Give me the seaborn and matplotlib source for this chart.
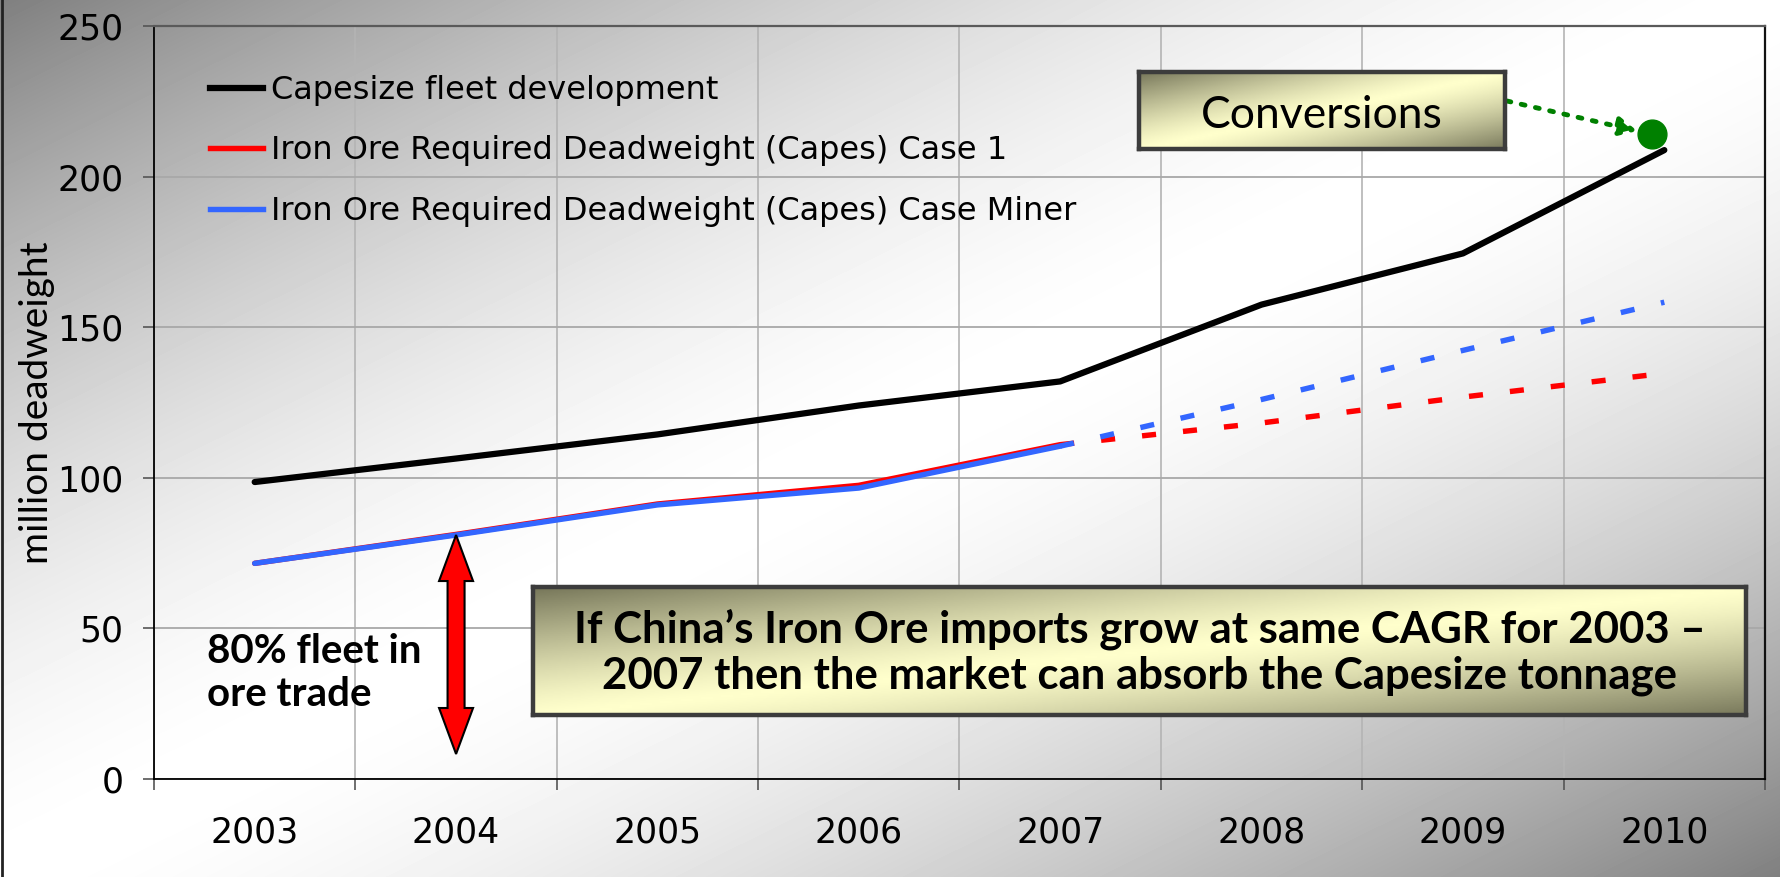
import numpy as np
import matplotlib
matplotlib.use("Agg")
import matplotlib.pyplot as plt
import seaborn as sns
from matplotlib.lines import Line2D
from matplotlib.patches import Polygon
from matplotlib.transforms import IdentityTransform
from matplotlib.colors import LinearSegmentedColormap

# ---------------- data ----------------
years = ['2003', '2004', '2005', '2006', '2007', '2008', '2009', '2010']
capesize_fleet = [98.6, 106.4, 114.4, 124.0, 132.0, 157.5, 174.5, 208.8]
case1_hist_years = ['2003', '2004', '2005', '2006', '2007']
case1_hist = [71.6, 81.2, 91.3, 97.5, 111.0]
case1_proj_years = ['2007', '2008', '2009', '2010']
case1_proj = [111.0, 118.2, 126.8, 134.7]
miner_hist_years = ['2003', '2004', '2005', '2006', '2007']
miner_hist = [71.6, 81.0, 91.0, 96.6, 110.5]
miner_proj_years = ['2007', '2008', '2009', '2010']
miner_proj = [110.5, 126.0, 142.3, 158.3]
conversions_2010 = 214.0
y_ticks = [0, 50, 100, 150, 200, 250]
legend_labels = ['Capesize fleet development',
                 'Iron Ore Required Deadweight (Capes) Case 1',
                 'Iron Ore Required Deadweight (Capes) Case Miner']
note_main = "If China\u2019s Iron Ore imports grow at same CAGR for 2003 \u2013\n2007 then the market can absorb the Capesize tonnage"
note_fleet = "80% fleet in\nore trade"
note_conv = "Conversions"

pos = {y: i for i, y in enumerate(years)}
W, H = 1780, 877

fig = plt.figure(figsize=(W / 100, H / 100), dpi=100)

# background gradient
bg = fig.add_axes([0, 0, 1, 1])
bg.axis('off')
yy, xx = np.mgrid[0:H, 0:W]
t = (xx / W + yy / H) / 2
g = 1 - 0.5 * np.abs(2 * t - 1) ** 1.6
bg.imshow(g, cmap='gray', vmin=0, vmax=1, aspect='auto', extent=[0, 1, 0, 1])
fig.add_artist(Line2D([0.001, 0.001], [0, 1], color='#222222', lw=2, transform=fig.transFigure))

ax = fig.add_axes([154 / W, 1 - 779 / H, (1765 - 154) / W, (779 - 26) / H])
ax.patch.set_alpha(0)

RED = '#ff0000'
BLUE = '#3366ff'
dash = (0, (2.6, 5.0))

sns.lineplot(x=[pos[y] for y in years], y=capesize_fleet, color='black', lw=4.5,
             solid_capstyle='round', solid_joinstyle='round', ax=ax)
sns.lineplot(x=[pos[y] for y in case1_hist_years], y=case1_hist, color=RED, lw=3.9,
             solid_capstyle='round', solid_joinstyle='round', ax=ax)
sns.lineplot(x=[pos[y] for y in case1_proj_years], y=case1_proj, color=RED, lw=3.9,
             linestyle=dash, dash_capstyle='butt', ax=ax)
sns.lineplot(x=[pos[y] for y in miner_hist_years], y=miner_hist, color=BLUE, lw=3.9,
             solid_capstyle='round', solid_joinstyle='round', ax=ax)
sns.lineplot(x=[pos[y] for y in miner_proj_years], y=miner_proj, color=BLUE, lw=3.9,
             linestyle=dash, dash_capstyle='butt', ax=ax)

ax.set_xlim(-0.5, 7.5)
ax.set_ylim(0, 250)
ax.set_xticks(range(len(years)))
ax.set_xticklabels(years)
ax.set_xticks(np.arange(-0.5, len(years) + 0.5, 1), minor=True)
ax.tick_params(axis='x', which='major', length=0, pad=26, labelsize=25)
ax.tick_params(axis='x', which='minor', length=8, width=1.2, direction='out', color='#555555')
ax.set_yticks(y_ticks)
ax.tick_params(axis='y', which='major', length=8, width=1.2, direction='out', pad=14,
               labelsize=25, color='#555555')
ax.grid(axis='x', which='minor', color='#b4b4b4', lw=1.2)
ax.grid(axis='x', which='major', visible=False)
ax.grid(axis='y', which='major', color='#a8a8a8', lw=1.3)
ax.set_axisbelow(True)
ax.set_xlabel('')
for s in ['left', 'bottom']:
    ax.spines[s].set_color('black')
    ax.spines[s].set_linewidth(1.3)
ax.spines['right'].set_color('#111111')
ax.spines['right'].set_linewidth(1.6)
ax.spines['top'].set_color('#5a5a5a')
ax.spines['top'].set_linewidth(1.6)

ax.set_ylabel('million deadweight', fontsize=28, family='Lato', va='center',
              rotation_mode='anchor')
ax.yaxis.set_label_coords((37 - 154) / 1611, 0.5)

handles = [Line2D([], [], color='black', lw=4.5),
           Line2D([], [], color=RED, lw=3.9),
           Line2D([], [], color=BLUE, lw=3.9)]
ax.legend(handles, legend_labels, loc='upper left', bbox_to_anchor=(210 / W, 1 - 75 / H),
          bbox_transform=fig.transFigure, frameon=False, borderpad=0, borderaxespad=0,
          handlelength=1.65, handletextpad=0.25, labelspacing=0.92, prop={'size': 23})

# green conversions marker + dotted arrow
conv_x = pos['2010'] - 0.06
ax.scatter([conv_x], [conversions_2010], s=430, color='#008000', zorder=6, clip_on=False)
ax.annotate('', xy=(conv_x, conversions_2010), xycoords='data',
            xytext=(1507, H - 101), textcoords='figure pixels',
            arrowprops=dict(arrowstyle='-|>', color='#008000', lw=3.5,
                            linestyle=(0, (0.8, 2.2)), mutation_scale=28,
                            shrinkA=0, shrinkB=11))

# red double arrow
fig.canvas.draw()
xp, yp_top = ax.transData.transform((pos['2004'], miner_hist[1]))
_, yp_bot = ax.transData.transform((pos['2004'], 8.3))
sw, hw, hl = 8.5, 17, 46
verts = [(xp, yp_top), (xp + hw, yp_top - hl), (xp + sw, yp_top - hl), (xp + sw, yp_bot + hl),
         (xp + hw, yp_bot + hl), (xp, yp_bot), (xp - hw, yp_bot + hl), (xp - sw, yp_bot + hl),
         (xp - sw, yp_top - hl), (xp - hw, yp_top - hl)]
ax.add_patch(Polygon(verts, closed=True, fc=RED, ec='black', lw=1.5,
                     transform=IdentityTransform(), zorder=5, clip_on=False))

fig.text(207 / W, 1 - 633 / H, note_fleet, fontsize=29, family='Lato', weight='bold',
         va='top', ha='left', linespacing=1.2)

# gradient note boxes
box_cmap = LinearSegmentedColormap.from_list('box', ['#77775a', '#ffffcc'])


def note_box(rect, text, size, weight, ls, ty):
    bax = fig.add_axes(rect)
    h, w = 60, 300
    by, bx = np.mgrid[0:h, 0:w]
    tt = (bx / w + by / h) / 2
    gg = 1 - np.abs(2 * tt - 1) ** 1.3
    bax.imshow(gg, cmap=box_cmap, vmin=0, vmax=1, aspect='auto', extent=[0, 1, 0, 1])
    bax.set_xticks([])
    bax.set_yticks([])
    for s in bax.spines.values():
        s.set_color('#3c3c3c')
        s.set_linewidth(3.2)
    bax.text(0.5, ty, text, ha='center', va='center', fontsize=size, family='Lato',
             weight=weight, linespacing=ls, transform=bax.transAxes)


note_box([533 / W, 1 - 715 / H, (1746 - 533) / W, 128 / H], note_main, 31.5, 'bold', 1.15, 0.49)
note_box([1139 / W, 1 - 149 / H, 366 / W, 77 / H], note_conv, 32, 'normal', 1.0, 0.44)

fig.savefig('out.png', dpi=100)
